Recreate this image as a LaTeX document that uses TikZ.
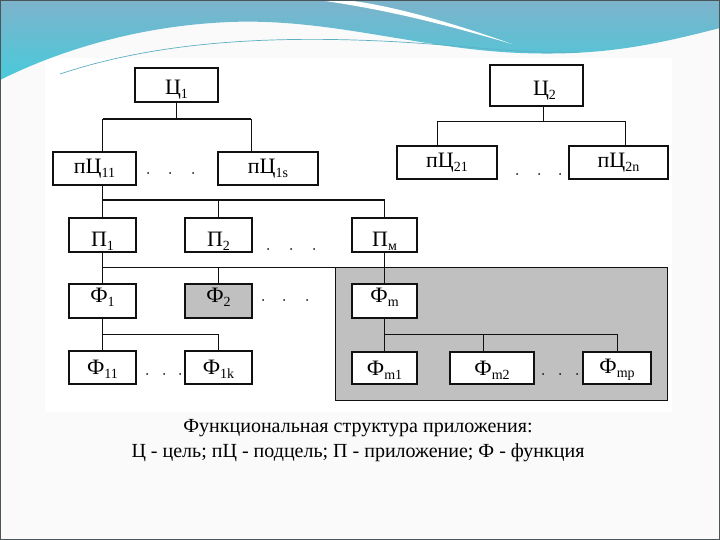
\documentclass[tikz,border=0pt]{standalone}
\usepackage{fontspec}
\setmainfont{Liberation Serif}
\usetikzlibrary{positioning, fit, backgrounds, calc}
\definecolor{inkline}{HTML}{111111}
\definecolor{panelgray}{HTML}{C0C0C0}
\definecolor{slidebg}{HTML}{FAFAFA}
\definecolor{headtop}{HTML}{7DB3CB}
\definecolor{headbot}{HTML}{48CADB}
\definecolor{streak}{HTML}{5DAFC2}
\definecolor{frame}{HTML}{4A5559}
% label: optional vertical shift, letter, subscript
\newcommand{\lbl}[3][0pt]{\raisebox{#1}[\height][\depth]{#2\raisebox{-0.4ex}{\fontsize{14}{14}\selectfont #3}}}
\tikzset{
    block/.style={
        rectangle, draw=inkline, fill=white, line width=1.3pt,
        inner sep=0pt, minimum width=67pt, minimum height=34pt,
        font=\fontsize{22}{22}\selectfont
    },
    link/.style={draw=inkline, line width=0.9pt},
    bus/.style={draw=inkline, line width=1.8pt},
    panel/.style={
        rectangle, draw=inkline, fill=panelgray, line width=1.2pt, inner sep=16pt
    },
    caption/.style={align=center, font=\fontsize{20}{25}\selectfont}
}

\begin{document}
\begin{tikzpicture}[x=1pt, y=-1pt]
    \useasboundingbox (0,0) rectangle (720,540);
    \begin{scope}[on background layer]
        \fill[slidebg] (0,0) rectangle (720,540);
        \fill[white] (45,58) rectangle (672,412);
        \shade[top color=headtop, bottom color=headbot] (0,0) -- (720,0) -- (720,28)
            .. controls (650,46) and (600,56) .. (520,53)
            .. controls (420,49) and (330,18) .. (230,22)
            .. controls (130,26) and (50,55) .. (0,80) -- cycle;
        \fill[white] (318,0) .. controls (390,10) and (450,26) .. (512,44)
            .. controls (450,22) and (390,5) .. (345,0) -- cycle;
        \draw[streak, line width=0.7pt] (60,74) .. controls (150,44) and (260,34) .. (400,42)
            .. controls (470,46) and (520,54) .. (580,52);
        \draw[frame, line width=1.2pt] (0.6,0.6) rectangle (719.4,539.4);
    \end{scope}

    % goals
    \node[block, minimum width=83pt] (c1) at (176.5,85) {\lbl[-5pt]{Ц}{1}};
    \node[block, minimum width=93pt, minimum height=41pt] (c2) at (536.5,85.5) {\hspace{16pt}\lbl[-5pt]{Ц}{2}};

    % subgoals
    \node[block, minimum width=83pt, minimum height=33pt] (p11) at (94.5,168.5) {\lbl{пЦ}{11}};
    \node[block, minimum width=100pt, minimum height=33pt] (p1s) at (268,168.5) {\lbl{пЦ}{1s}};
    \node[block, minimum width=100pt, minimum height=33pt] (p21) at (447,162.5) {\lbl{пЦ}{21}};
    \node[block, minimum width=99pt, minimum height=33pt] (p2n) at (618.5,162.5) {\lbl{пЦ}{2n}};

    % applications
    \node[block] (a1) at (102.5,235) {\lbl[-6pt]{П}{1}};
    \node[block] (a2) at (218.5,235) {\lbl[-6pt]{П}{2}};
    \node[block, minimum width=65pt] (am) at (384.5,235) {\lbl[-6pt]{П}{м}};

    % functions
    \node[block] (f1) at (102.5,301) {\lbl[4pt]{Ф}{1}};
    \node[block, fill=panelgray] (f2) at (218.5,301) {\lbl[4pt]{Ф}{2}};
    \node[block, minimum width=65pt] (fm) at (384.5,301) {\lbl[4pt]{Ф}{m}};

    \node[block, minimum height=33pt] (f11) at (102.5,367.5) {\lbl[-2pt]{Ф}{11}};
    \node[block, minimum height=33pt] (f1k) at (218.5,367.5) {\lbl[-2pt]{Ф}{1k}};
    \node[block, minimum width=65pt, minimum height=32pt] (fm1) at (384.5,368) {\lbl[-2pt]{Ф}{m1}};
    \node[block, minimum width=84pt, minimum height=32pt] (fm2) at (492,368) {\lbl[-2pt]{Ф}{m2}};
    \node[block, minimum width=68pt, minimum height=32pt] (fmp) at (617,368) {\lbl[-2pt]{Ф}{mp}};

    \begin{scope}[on background layer]
        \node[panel, fit=(fm)(fm1)(fmp)] (pnl) {};
    \end{scope}

    % connectors
    \path (c1.south) ++(0,16) coordinate (j1);
    \draw[link] (c1.south) -- (j1);
    \draw[link] (p11.north -| a1) -- (j1 -| a1);
    \draw[link] ([xshift=-17pt]p1s.north) -- ([xshift=-17pt]p1s.north |- j1);
    \draw[bus] (j1 -| a1) -- ([xshift=-17pt]p1s.north |- j1);

    \path ([xshift=6.5pt]c2.south) ++(0,15) coordinate (j2);
    \draw[link] ([xshift=6.5pt]c2.south) -- (j2);
    \draw[link] ([xshift=-10pt]p21.north) |- (j2) -| ([xshift=6.5pt]p2n.north);

    \draw[link] (p11.south -| a1) -- (a1.north);
    \path (a1.north) ++(0,-17) coordinate (j3);
    \draw[bus] (j3) -- (j3 -| am);
    \draw[link] (j3 -| am) -- (am.north);
    \draw[link] (j3 -| a2) -- (a2.north);

    \draw[link] (a1.south) -- (f1.north);
    \path (f1.north) ++(0,-16) coordinate (j4);
    \draw[link] (j4) -- (j4 -| pnl.west);
    \draw[link] (j4 -| f2) -- (f2.north);
    \draw[link] (am.south) -- (fm.north);

    \draw[link] (f1.south) -- (f11.north);
    \path (f1.south) ++(0,16) coordinate (j5);
    \draw[link] (j5) -| (f1k.north);

    \draw[link] (fm.south) -- (fm1.north);
    \path (fm.south) ++(0,16) coordinate (j6);
    \draw[link] (j6) -| (fmp.north);
    \draw[link] ([xshift=-9pt]fm2.north |- j6) -- ([xshift=-9pt]fm2.north);

    % gaps between siblings
    \foreach \x in {148,170,193} \fill[inkline] (\x,173) circle (1pt);
    \foreach \x in {517,539,560} \fill[inkline] (\x,174) circle (1pt);
    \foreach \x in {268,291,314} \fill[inkline] (\x,249) circle (1pt);
    \foreach \x in {263,284,307} \fill[inkline] (\x,300) circle (1pt);
    \foreach \x in {147,164,180} \fill[inkline] (\x,374) circle (1pt);
    \foreach \x in {543,560,577} \fill[inkline] (\x,374) circle (1pt);

    \node[caption] (cap) at (358,441) {Функциональная структура приложения:\\
        Ц - цель; пЦ - подцель; П - приложение; Ф - функция};
\end{tikzpicture}
\end{document}
